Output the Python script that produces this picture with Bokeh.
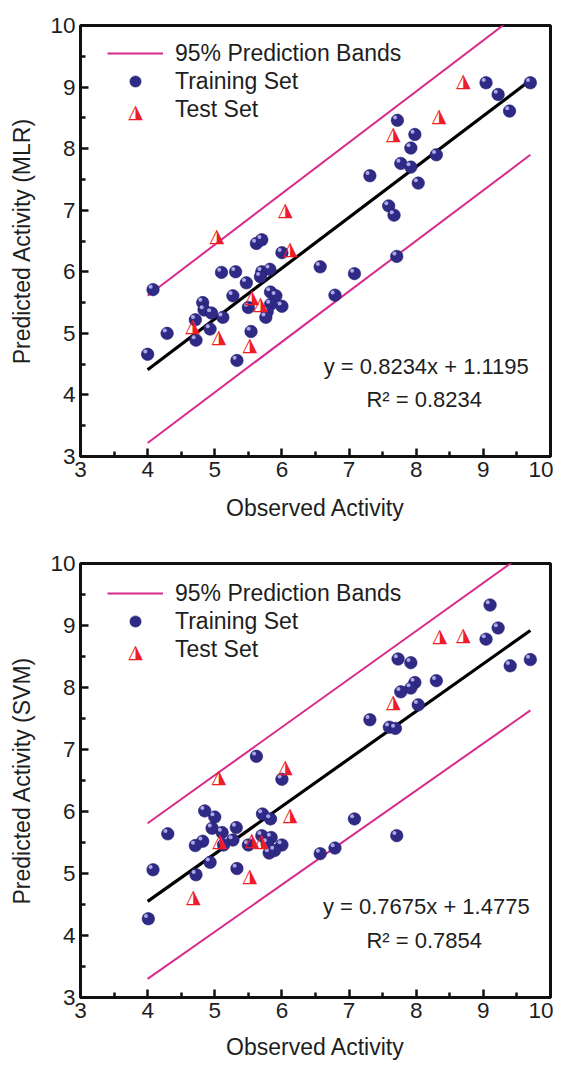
from bokeh.plotting import figure
from bokeh.layouts import column
from bokeh.models import (ColumnDataSource, Range1d, FixedTicker, Legend, LegendItem, Label)
from bokeh.core.properties import value
from bokeh.transform import dodge
from bokeh.embed import file_html
from bokeh.resources import INLINE

# ---------------- data ----------------
mlr_train_x = [9.04, 9.22, 9.39, 9.70, 7.72, 7.98, 7.92, 7.77, 7.92, 8.30, 8.03, 7.31, 7.59, 7.67,
               7.71, 5.62, 5.70, 6.00, 6.57, 7.08, 4.08, 5.10, 5.31, 5.70, 5.82, 5.68, 5.47, 5.27,
               5.83, 5.91, 5.83, 6.00, 5.78, 5.76, 5.50, 5.54, 4.82, 4.84, 4.95, 5.12, 4.71, 4.93,
               4.72, 4.29, 4.00, 5.33, 6.79]
mlr_train_y = [9.07, 8.88, 8.61, 9.07, 8.46, 8.23, 8.01, 7.76, 7.70, 7.90, 7.44, 7.56, 7.07, 6.92,
               6.25, 6.46, 6.52, 6.31, 6.08, 5.97, 5.71, 5.99, 6.00, 6.00, 6.04, 5.92, 5.82, 5.61,
               5.67, 5.61, 5.47, 5.44, 5.35, 5.26, 5.42, 5.03, 5.50, 5.38, 5.33, 5.26, 5.22, 5.07,
               4.89, 5.00, 4.66, 4.56, 5.62]
mlr_test_x = [8.70, 8.34, 7.66, 6.05, 5.03, 6.12, 5.55, 5.68, 4.67, 5.06, 5.52]
mlr_test_y = [9.11, 8.54, 8.25, 7.02, 6.60, 6.38, 5.61, 5.49, 5.13, 4.95, 4.83]

svm_train_x = [9.10, 9.22, 9.04, 9.70, 9.40, 7.73, 7.92, 8.30, 7.98, 7.92, 7.77, 8.03, 7.31, 7.60,
               7.69, 5.62, 6.00, 4.85, 5.00, 5.71, 5.83, 7.08, 5.32, 4.96, 5.11, 4.30, 7.71, 5.70,
               5.84, 5.27, 4.82, 4.71, 5.13, 5.50, 5.78, 6.00, 5.89, 5.81, 6.57, 6.79, 4.93, 5.33,
               4.08, 4.72, 4.01]
svm_train_y = [9.33, 8.96, 8.78, 8.45, 8.35, 8.46, 8.40, 8.11, 8.08, 7.99, 7.93, 7.72, 7.48, 7.36,
               7.34, 6.89, 6.52, 6.01, 5.91, 5.96, 5.88, 5.88, 5.74, 5.73, 5.66, 5.64, 5.61, 5.61,
               5.58, 5.54, 5.52, 5.45, 5.46, 5.46, 5.49, 5.46, 5.37, 5.33, 5.32, 5.41, 5.18, 5.08,
               5.06, 4.98, 4.27]
svm_test_x = [8.70, 8.35, 7.66, 6.05, 5.06, 6.12, 5.07, 5.55, 5.69, 5.52, 4.68]
svm_test_y = [8.86, 8.85, 7.78, 6.73, 6.57, 5.96, 5.54, 5.55, 5.54, 4.97, 4.63]

line_x = [4.0, 9.7]
mlr_fit_y = [4.41, 9.11]
mlr_upper_y = [5.61, 10.34]
mlr_lower_y = [3.22, 7.90]
svm_fit_y = [4.55, 8.92]
svm_upper_y = [5.81, 10.23]
svm_lower_y = [3.30, 7.63]

ticks = [3, 4, 5, 6, 7, 8, 9, 10]
minor_ticks = [3.5, 4.5, 5.5, 6.5, 7.5, 8.5, 9.5]

legend_labels = ["95% Prediction Bands", "Training Set", "Test Set"]
mlr_eq = ["y = 0.8234x + 1.1195", "R\u00b2 = 0.8234"]
svm_eq = ["y = 0.7675x + 1.4775", "R\u00b2 = 0.7854"]

# ---------------- styles ----------------
FONT = "Liberation Sans"
TXT = "#1e1e1e"
BAND = "#d8298c"
BALL = "#2f2a86"
BALL_HI = "#b9b6f0"
TRI = "#ee1d25"
TRI_CHAR = "\u25ee"


def make_panel(ylabel, tx, ty, ex, ey, fit_y, up_y, lo_y, eq, height, top, bottom,
               legend_vy, tri_legend_y, xlabel_standoff):
    p = figure(width=553, height=height, x_range=Range1d(3, 10), y_range=Range1d(3, 10),
               output_backend="svg", toolbar_location=None,
               min_border_left=80, min_border_right=3, min_border_top=top,
               min_border_bottom=bottom)
    p.xgrid.visible = False
    p.ygrid.visible = False
    p.outline_line_color = "#111111"
    p.outline_line_width = 3
    p.outline_line_alpha = 1

    p.xaxis.axis_label = "Observed Activity"
    p.yaxis.axis_label = ylabel
    for ax in (p.xaxis[0], p.yaxis[0]):
        ax.ticker = FixedTicker(ticks=ticks, minor_ticks=minor_ticks)
        ax.axis_line_width = 3
        ax.axis_line_color = "#111111"
        ax.major_tick_in = 8
        ax.major_tick_out = 0
        ax.minor_tick_in = 5
        ax.minor_tick_out = 0
        ax.major_tick_line_width = 2.5
        ax.minor_tick_line_width = 2.5
        ax.major_tick_line_color = "#111111"
        ax.minor_tick_line_color = "#111111"
        ax.major_label_text_font = FONT
        ax.major_label_text_font_size = "22.5px"
        ax.major_label_text_color = TXT
        ax.axis_label_text_font = FONT
        ax.axis_label_text_font_size = "23px"
        ax.axis_label_text_font_style = "normal"
        ax.axis_label_text_color = TXT
    p.xaxis.major_label_standoff = 5
    p.yaxis.major_label_standoff = 5
    p.xaxis.axis_label_standoff = xlabel_standoff
    p.yaxis.axis_label_standoff = 12

    lines = ColumnDataSource(dict(x=line_x, fit=fit_y, up=up_y, lo=lo_y))
    band_r = p.line("x", "up", source=lines, line_color=BAND, line_width=2)
    p.line("x", "lo", source=lines, line_color=BAND, line_width=2)
    p.line("x", "fit", source=lines, line_color="#000000", line_width=3.2)

    train = ColumnDataSource(dict(x=tx, y=ty))
    ball_r = p.scatter("x", "y", source=train, marker="circle", size=12.5,
                       fill_color=BALL, line_color="#231f6e", line_width=0.6)
    p.scatter(x=dodge("x", -0.035), y=dodge("y", 0.045), source=train, marker="circle",
              size=4, fill_color=BALL_HI, fill_alpha=0.9, line_color=None)

    test = ColumnDataSource(dict(x=ex, y=ey))
    tri_r = p.text("x", "y", source=test, text=value(TRI_CHAR),
                   text_font=value("DejaVu Sans"), text_font_size=value("19px"),
                   text_color=TRI, text_align="center", text_baseline="middle")

    legend = Legend(items=[LegendItem(label=legend_labels[0], renderers=[band_r]),
                           LegendItem(label=legend_labels[1], renderers=[ball_r]),
                           LegendItem(label=legend_labels[2], renderers=[tri_r])],
                    location=(27, legend_vy), orientation="vertical",
                    glyph_width=56, glyph_height=28, label_height=28, label_width=10,
                    label_standoff=12, spacing=0, padding=0, margin=0,
                    border_line_color=None, background_fill_alpha=0,
                    label_text_font=FONT, label_text_font_size="23px",
                    label_text_color=TXT)
    p.add_layout(legend)
    # legend symbol for the test set (text glyphs have no legend swatch)
    p.add_layout(Label(x=55, y=tri_legend_y, x_units="screen", y_units="screen",
                       text=TRI_CHAR, text_align="center", text_baseline="middle",
                       text_font="DejaVu Sans", text_font_size="19px", text_color=TRI))

    p.add_layout(Label(x=8.15, y=4.46, text=eq[0], text_align="center",
                       text_baseline="middle", text_font=FONT, text_font_size="22px",
                       text_color=TXT))
    p.add_layout(Label(x=8.12, y=3.92, text=eq[1], text_align="center",
                       text_baseline="middle", text_font=FONT, text_font_size="22px",
                       text_color=TXT))
    return p


p1 = make_panel("Predicted Activity (MLR)", mlr_train_x, mlr_train_y, mlr_test_x, mlr_test_y,
                mlr_fit_y, mlr_upper_y, mlr_lower_y, mlr_eq,
                height=530, top=25, bottom=74, legend_vy=332.7, tri_legend_y=346,
                xlabel_standoff=15)
p2 = make_panel("Predicted Activity (SVM)", svm_train_x, svm_train_y, svm_test_x, svm_test_y,
                svm_fit_y, svm_upper_y, svm_lower_y, svm_eq,
                height=536, top=33, bottom=69, legend_vy=333.7, tri_legend_y=347,
                xlabel_standoff=13)

layout = column(p1, p2, spacing=0)
open("out.html", "w").write(file_html(layout, INLINE))
